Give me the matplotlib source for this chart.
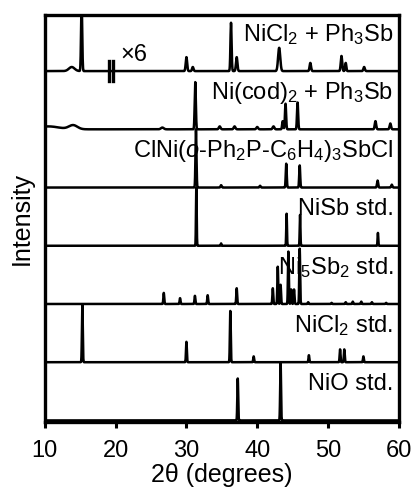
import numpy as np
import matplotlib
matplotlib.use("Agg")
import matplotlib.pyplot as plt

plt.rcParams['font.family'] = 'Liberation Sans'
plt.rcParams['mathtext.fontset'] = 'custom'
plt.rcParams['mathtext.rm'] = 'Liberation Sans'
plt.rcParams['mathtext.it'] = 'Liberation Sans:italic'

# trace names, top to bottom
labels = [
    r"NiCl$_2$ + Ph$_3$Sb",
    r"Ni(cod)$_2$ + Ph$_3$Sb",
    r"ClNi($\mathit{o}$-Ph$_2$P-C$_6$H$_4$)$_3$SbCl",
    "NiSb std.",
    r"Ni$_5$Sb$_2$ std.",
    r"NiCl$_2$ std.",
    "NiO std.",
]

# peak lists: 2theta, height (1 = trace spacing), width (deg)
pos_nicl2_ph3sb = [13.8, 15.2, 30.0, 30.9, 36.3, 37.1, 43.1, 47.5, 51.9, 52.5, 55.1]
hgt_nicl2_ph3sb = [0.07, 1.20, 0.24, 0.07, 0.83, 0.24, 0.40, 0.14, 0.26, 0.14, 0.07]
wid_nicl2_ph3sb = [0.40, 0.08, 0.10, 0.10, 0.08, 0.10, 0.15, 0.10, 0.10, 0.08, 0.10]

pos_nicod = [10.5, 14.0, 26.6, 31.25, 34.7, 36.8, 40.0, 42.3, 43.6, 44.0, 45.7, 56.7, 58.8]
hgt_nicod = [0.05, 0.07, 0.03, 0.81, 0.05, 0.05, 0.04, 0.05, 0.14, 0.44, 0.46, 0.14, 0.10]
wid_nicod = [1.50, 0.60, 0.20, 0.08, 0.12, 0.12, 0.12, 0.12, 0.08, 0.08, 0.08, 0.10, 0.10]

pos_clni = [31.35, 34.9, 40.4, 44.1, 46.0, 57.0, 59.0]
hgt_clni = [1.00, 0.04, 0.03, 0.41, 0.38, 0.12, 0.05]
wid_clni = [0.07, 0.08, 0.08, 0.07, 0.07, 0.08, 0.08]

pos_nisb = [31.4, 34.9, 44.15, 46.05, 57.05]
hgt_nisb = [1.00, 0.04, 0.55, 0.53, 0.22]
wid_nisb = [0.05, 0.05, 0.05, 0.05, 0.05]

pos_ni5sb2 = [26.8, 29.1, 31.2, 33.0, 37.1, 42.2, 42.9, 43.3, 44.4, 44.8, 45.2, 46.0,
              47.2, 50.5, 52.5, 53.5, 54.7, 56.2, 58.2]
hgt_ni5sb2 = [0.19, 0.10, 0.14, 0.15, 0.27, 0.27, 0.64, 0.33, 0.90, 0.25, 0.25, 0.95,
              0.03, 0.02, 0.03, 0.04, 0.04, 0.03, 0.02]
wid_ni5sb2 = [0.06] * len(pos_ni5sb2)

pos_nicl2 = [15.3, 30.0, 36.2, 39.5, 47.3, 51.7, 52.3, 55.0]
hgt_nicl2 = [0.98, 0.35, 0.88, 0.10, 0.12, 0.22, 0.22, 0.10]
wid_nicl2 = [0.06] * len(pos_nicl2)

pos_nio = [37.25, 43.3]
hgt_nio = [0.72, 1.00]
wid_nio = [0.06, 0.06]

peaks = [
    (pos_nicl2_ph3sb, hgt_nicl2_ph3sb, wid_nicl2_ph3sb),
    (pos_nicod, hgt_nicod, wid_nicod),
    (pos_clni, hgt_clni, wid_clni),
    (pos_nisb, hgt_nisb, wid_nisb),
    (pos_ni5sb2, hgt_ni5sb2, wid_ni5sb2),
    (pos_nicl2, hgt_nicl2, wid_nicl2),
    (pos_nio, hgt_nio, wid_nio),
]

break_x = [19.1, 19.7]   # axis break marks on the top trace
scale_label = "×6"

tt = np.arange(10, 60.001, 0.01)

fig = plt.figure(figsize=(4.15, 4.9), dpi=100)
ax = fig.add_axes([0.108, 0.139, 0.853, 0.830])

n = len(labels)
for i, (lab, (pos, hgt, wid)) in enumerate(zip(labels, peaks)):
    offset = n - 1 - i
    y = np.zeros_like(tt)
    for p, h, w in zip(pos, hgt, wid):
        y += h * np.exp(-0.5 * ((tt - p) / w) ** 2)
    ax.plot(tt, y + offset, color='black', lw=1.8)
    ax.text(0.985, offset + 0.52, lab, transform=ax.get_yaxis_transform(),
            ha='right', va='baseline', fontsize=17)

top = n - 1
for bx in break_x:
    ax.plot([bx, bx], [top - 0.17, top + 0.17], color='black', lw=2.4)
ax.text(break_x[-1] + 1.0, top + 0.08, scale_label, fontsize=17, va='bottom')

ax.set_xlim(10, 60)
ax.set_ylim(-0.025, 6.96)
ax.set_yticks([])
ax.set_xticks([10, 20, 30, 40, 50, 60])
ax.tick_params(axis='x', direction='out', length=4, width=2.2, pad=9, labelsize=17)
for s in ax.spines.values():
    s.set_linewidth(2.4)
ax.set_xlabel('2θ (degrees)', fontsize=18, labelpad=1)
ax.set_ylabel('Intensity', fontsize=18, va='center')
ax.yaxis.set_label_coords(-0.065, 0.5)

fig.savefig('out.png', dpi=100)
